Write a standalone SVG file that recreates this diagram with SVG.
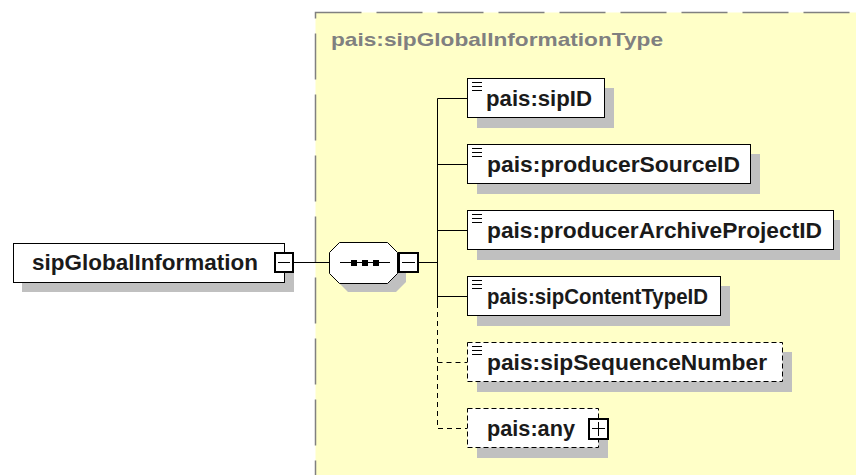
<svg xmlns="http://www.w3.org/2000/svg" width="856" height="475" viewBox="0 0 856 475">
<defs>
<style>
.bg{fill:#FFFFC8;stroke:#808080;stroke-width:1.5;stroke-dasharray:46 15}
.sh{fill:#C0C0C0}
.box{fill:#FFFFFF;stroke:#000000;stroke-width:1}
.opt{fill:#FFFFFF;stroke:#000000;stroke-width:1;stroke-dasharray:5 3}
.lbl{font-family:"Liberation Sans",Arial,sans-serif;font-weight:bold;font-size:22px;fill:#1a1a1a}
.ttl{font-family:"Liberation Sans",Arial,sans-serif;font-weight:bold;font-size:19px;fill:#808080}
.ln{stroke:#000000;stroke-width:1;fill:none}
.dl{stroke:#000000;stroke-width:1;fill:none;stroke-dasharray:5 4}
.btn{fill:#FFFFFF;stroke:#000000;stroke-width:2}
.doc{stroke:#000000;stroke-width:1}
</style>
</defs>
<rect class="bg" x="315.5" y="12.5" width="560" height="480"/>
<text class="ttl" x="331" y="46" textLength="332" lengthAdjust="spacingAndGlyphs">pais:sipGlobalInformationType</text>
<g id="connectors">
<line class="ln" x1="294" y1="262.5" x2="329" y2="262.5"/>
<line class="ln" x1="419" y1="262.5" x2="437.5" y2="262.5"/>
<polyline class="ln" points="467,98.5 437.5,98.5 437.5,303"/>
<line class="ln" x1="437.5" y1="164.5" x2="467" y2="164.5"/>
<line class="ln" x1="437.5" y1="230.5" x2="467" y2="230.5"/>
<line class="ln" x1="437.5" y1="296.5" x2="467" y2="296.5"/>
<polyline class="dl" points="437.5,303 437.5,428.5 467,428.5"/>
<line class="dl" x1="437.5" y1="362.5" x2="467" y2="362.5"/>
</g>
<g id="sipGlobalInformation">
<rect class="sh" x="22" y="252" width="272" height="40"/>
<rect class="box" x="13.5" y="243.5" width="271" height="39"/>
<text class="lbl" x="32" y="270" textLength="226" lengthAdjust="spacingAndGlyphs">sipGlobalInformation</text>
<rect class="btn" x="275" y="253" width="18" height="19"/>
<line class="ln" x1="278" y1="262.5" x2="290" y2="262.5"/>
</g>
<g id="sequence">
<polygon class="sh" points="348,251 396,251 406,261 406,282 396,292 348,292 338,282 338,261"/>
<polygon class="box" points="339.5,242.5 387.5,242.5 397.5,252.5 397.5,273.5 387.5,283.5 339.5,283.5 329.5,273.5 329.5,252.5"/>
<line class="ln" x1="340" y1="262.5" x2="390" y2="262.5"/>
<rect x="351" y="260" width="6" height="6" fill="#000"/>
<rect x="362" y="260" width="6" height="6" fill="#000"/>
<rect x="373" y="260" width="6" height="6" fill="#000"/>
<rect class="btn" x="399" y="253" width="19" height="19"/>
<line class="ln" x1="402" y1="262.5" x2="415" y2="262.5"/>
</g>
<g id="sipID">
<rect class="sh" x="477" y="88" width="137" height="40"/>
<rect class="box" x="467.5" y="78.5" width="137" height="39"/>
<path class="doc" d="M472 82.5h10M472 86.5h10M472 90.5h10"/>
<text class="lbl" x="486" y="106" textLength="106" lengthAdjust="spacingAndGlyphs">pais:sipID</text>
</g>
<g id="producerSourceID">
<rect class="sh" x="477" y="154" width="283" height="40"/>
<rect class="box" x="467.5" y="144.5" width="283" height="39"/>
<path class="doc" d="M472 148.5h10M472 152.5h10M472 156.5h10"/>
<text class="lbl" x="487" y="172" textLength="253" lengthAdjust="spacingAndGlyphs">pais:producerSourceID</text>
</g>
<g id="producerArchiveProjectID">
<rect class="sh" x="477" y="220" width="363" height="40"/>
<rect class="box" x="467.5" y="210.5" width="366" height="39"/>
<path class="doc" d="M472 214.5h10M472 218.5h10M472 222.5h10"/>
<text class="lbl" x="487" y="238" textLength="335" lengthAdjust="spacingAndGlyphs">pais:producerArchiveProjectID</text>
</g>
<g id="sipContentTypeID">
<rect class="sh" x="477" y="286" width="253" height="40"/>
<rect class="box" x="467.5" y="276.5" width="253" height="39"/>
<path class="doc" d="M472 280.5h10M472 284.5h10M472 288.5h10"/>
<text class="lbl" x="487" y="304" textLength="221" lengthAdjust="spacingAndGlyphs">pais:sipContentTypeID</text>
</g>
<g id="sipSequenceNumber">
<rect class="sh" x="477" y="352" width="315" height="40"/>
<rect class="opt" x="467.5" y="342.5" width="315" height="39"/>
<path class="doc" d="M472 346.5h10M472 350.5h10M472 354.5h10"/>
<text class="lbl" x="487" y="370" textLength="280" lengthAdjust="spacingAndGlyphs">pais:sipSequenceNumber</text>
</g>
<g id="any">
<rect class="sh" x="477" y="418" width="131" height="40"/>
<rect class="opt" x="467.5" y="408.5" width="131" height="39"/>
<text class="lbl" x="487" y="436" textLength="88" lengthAdjust="spacingAndGlyphs">pais:any</text>
<rect class="btn" x="589" y="419" width="19" height="20"/>
<path class="ln" d="M592 428.5h13M598.5 422v14"/>
</g>
</svg>
